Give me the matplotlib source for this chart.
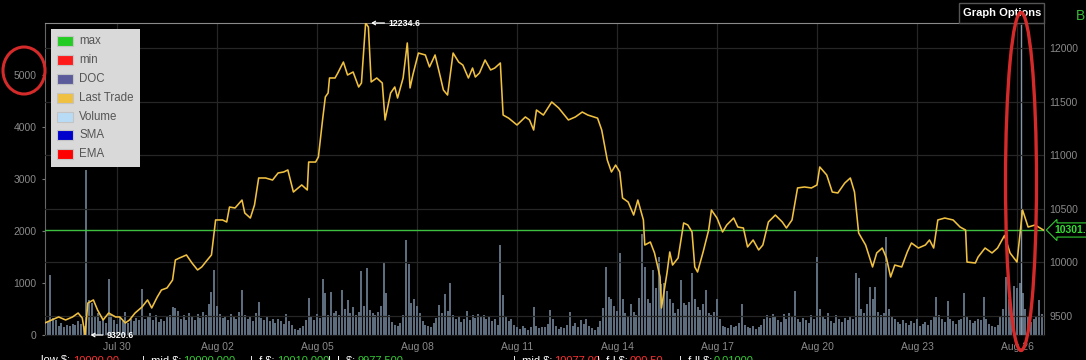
import numpy as np
import matplotlib
matplotlib.use('Agg')
import matplotlib.pyplot as plt
import matplotlib.dates as mdates
import matplotlib.transforms as mtransforms
from matplotlib.patches import Rectangle, Ellipse

plt.rcParams['font.family'] = ['Liberation Sans', 'DejaVu Sans']

# ---------------- data ----------------
START = np.datetime64('2019-07-28T00:00')

price_hours = [
    -4, 1, 6, 11, 16, 20, 23, 25, 27, 31,
    34, 38, 42, 47, 50, 54, 57, 61, 66, 70,
    73, 77, 80, 84, 88, 90, 93, 98, 102, 106,
    109, 113, 116, 119, 124, 127, 129, 133, 138, 140,
    144, 147, 150, 155, 160, 164, 168, 171, 175, 181,
    185, 186, 191, 193, 196, 198, 200, 201, 205, 207,
    211, 214, 218, 222, 224, 227, 229, 231, 235, 239,
    241, 245, 248, 250, 254, 257, 259, 261, 265, 270,
    273, 277, 281, 283, 286, 290, 294, 297, 301, 304,
    306, 309, 313, 317, 320, 324, 326, 330, 336, 342,
    345, 348, 350, 355, 361, 366, 373, 378, 383, 387,
    394, 397, 401, 404, 407, 410, 412, 416, 420, 423,
    427, 428, 432, 435, 439, 440, 444, 446, 448, 452,
    456, 459, 462, 464, 466, 470, 474, 476, 480, 484,
    487, 492, 495, 499, 502, 506, 510, 513, 517, 522,
    527, 530, 534, 538, 543, 548, 552, 554, 559, 563,
    567, 572, 576, 579, 582, 587, 592, 595, 599, 602,
    605, 608, 613, 617, 620, 625, 630, 633, 636, 639,
    644, 650, 655, 659, 660, 666, 668, 673, 678, 682,
    687, 691, 696, 700, 704, 709, 715,
]
price_values = [
    9433, 9461, 9489, 9461, 9489, 9526, 9479, 9320.6, 9619, 9648,
    9554, 9461, 9526, 9489, 9489, 9433, 9461, 9526, 9582, 9648,
    9573, 9676, 9741, 9760, 9834, 10021, 10040, 10068, 9993, 9928,
    9956, 10021, 10068, 10395, 10395, 10376, 10516, 10507, 10581, 10460,
    10413, 10535, 10787, 10787, 10768, 10834, 10843, 10862, 10656, 10722,
    10675, 10936, 10936, 10983, 11329, 11544, 11581, 11721, 11721, 11768,
    11870, 11749, 11777, 11637, 11674, 12234.6, 12197, 11684, 11721, 11674,
    11329, 11581, 11637, 11534, 11721, 12048, 11628, 11749, 11954, 11936,
    11824, 11936, 11721, 11609, 11562, 11954, 11870, 11842, 11721, 11814,
    11730, 11768, 11889, 11796, 11814, 11861, 11375, 11346, 11282, 11357,
    11329, 11235, 11422, 11375, 11497, 11441, 11329, 11357, 11403, 11375,
    11346, 11235, 10955, 10843, 10908, 10843, 10600, 10563, 10441, 10581,
    10395, 10161, 10189, 10087, 9862, 9573, 9900, 10096, 9974, 10040,
    10367, 10348, 10283, 9956, 9909, 10096, 10301, 10488, 10413, 10283,
    10348, 10413, 10329, 10320, 10143, 10208, 10115, 10161, 10376, 10441,
    10376, 10320, 10395, 10694, 10703, 10694, 10722, 10890, 10815, 10656,
    10647, 10740, 10787, 10656, 10273, 10161, 9956, 10087, 10133, 10040,
    9862, 9974, 9956, 10096, 10180, 10133, 10161, 10208, 10133, 10395,
    10413, 10395, 10329, 10301, 10002, 9993, 10049, 10133, 10087, 10133,
    10250, 10087, 10002, 10488, 10329, 10348, 10301.4,
]
assert len(price_hours) == len(price_values)

vol_first_hour = -4
vol_step_hours = 2
volume = [
    290, 250, 1150, 320, 280, 180, 240, 150, 200, 170, 220, 190, 260, 210, 180, 3170, 680, 620,
    350, 420, 260, 310, 230, 1080, 380, 290, 210, 340, 270, 450, 230, 300, 260, 330, 280, 880,
    300, 350, 420, 280, 380, 250, 310, 270, 340, 380, 540, 520, 460, 300, 380, 280, 420, 350,
    290, 400, 330, 450, 380, 600, 830, 1250, 560, 400, 320, 370, 290, 410, 350, 300, 450, 870,
    380, 300, 340, 270, 420, 640, 330, 280, 350, 260, 300, 230, 310, 270, 220, 400, 260, 190,
    110, 90, 130, 180, 280, 710, 340, 290, 400, 330, 1077, 810, 380, 820, 420, 460, 380, 870,
    500, 680, 420, 540, 380, 450, 1230, 560, 1290, 480, 420, 390, 450, 560, 1400, 800, 380, 250,
    200, 170, 240, 380, 1830, 1365, 620, 700, 560, 420, 260, 200, 170, 150, 230, 320, 580, 420,
    790, 460, 1000, 380, 300, 340, 250, 310, 460, 280, 380, 330, 400, 340, 380, 300, 350, 260,
    310, 200, 1730, 770, 350, 260, 300, 200, 160, 120, 180, 140, 100, 150, 540, 180, 130, 160,
    150, 220, 480, 300, 180, 120, 160, 140, 200, 450, 180, 230, 150, 280, 220, 300, 180, 140,
    100, 150, 260, 520, 1310, 740, 700, 560, 460, 1575, 700, 420, 350, 600, 450, 380, 720, 1950,
    1300, 700, 620, 1250, 900, 1500, 980, 1000, 850, 700, 620, 430, 500, 1060, 610, 580, 640, 1190,
    700, 540, 480, 600, 870, 420, 380, 450, 700, 300, 180, 160, 140, 200, 150, 180, 240, 600,
    200, 160, 140, 180, 120, 160, 190, 300, 380, 320, 400, 350, 280, 250, 400, 300, 420, 350,
    850, 300, 250, 320, 280, 240, 380, 300, 1500, 500, 350, 300, 420, 260, 230, 380, 300, 250,
    320, 280, 350, 300, 1190, 1100, 500, 420, 600, 930, 700, 930, 450, 380, 420, 1880, 500, 350,
    300, 250, 220, 280, 240, 200, 260, 230, 300, 180, 220, 250, 200, 280, 350, 740, 380, 300,
    250, 650, 300, 260, 220, 280, 300, 810, 350, 280, 230, 260, 300, 280, 740, 300, 220, 180,
    150, 200, 350, 500, 1120, 700, 600, 940, 900, 1000, 800, 500, 350, 250, 300, 350, 670, 400,
]

crosshair_hour = 699

tick_dates = ['2019-07-30', '2019-08-02', '2019-08-05', '2019-08-08', '2019-08-11',
              '2019-08-14', '2019-08-17', '2019-08-20', '2019-08-23', '2019-08-26']
left_ticks = [0, 1000, 2000, 3000, 4000, 5000]
right_ticks = [9500, 10000, 10500, 11000, 11500, 12000]

legend_labels = ['max', 'min', 'DOC', 'Last Trade', 'Volume', 'SMA', 'EMA']
legend_colors = ['#22cc22', '#ff1a1a', '#5b5b9b', '#f0c040', '#b8dcf6', '#0000cc', '#ff0000']

status_parts = [
    ('low $:', 'white'), ('10000.00', '#ff3030'),
    ('|  mid $:', 'white'), ('10000.000', '#33cc33'),
    ('|  f $:', 'white'), ('10010.000', '#33cc33'),
    ('|  L $:', 'white'), ('9977.500', '#33cc33'),
    ('|  mid $:', 'white'), ('10077.00', '#ff3030'),
    ('|  f-l $:', 'white'), ('000.50', '#ff3030'),
    ('|  f-ll $:', 'white'), ('0.01000', '#33cc33'),
]

# ---------------- figure ----------------
W, H = 1086, 360
fig = plt.figure(figsize=(W / 100, H / 100), dpi=100, facecolor='black')


def fx(x):
    return x / W


def fy(y):
    return 1 - y / H


ax = fig.add_axes([fx(45), 25 / H, 999 / W, 312 / H])
ax.set_facecolor('black')
ax2 = ax.twinx()

t0 = mdates.date2num(START.astype('datetime64[s]').astype(object))
pt = t0 + np.array(price_hours) / 24.0
pv = np.array(price_values, dtype=float)
vt = t0 + (vol_first_hour + vol_step_hours * np.arange(len(volume))) / 24.0

# volume bars
ax.bar(vt, volume, width=1.45 / 24, color='#5d6d7e', linewidth=0, zorder=2)
ax.axvline(t0 + crosshair_hour / 24.0, ymin=0, ymax=0.994, color='#8797aa', lw=1.0, zorder=3)
ax.set_ylim(0, 6000)
ax.set_xlim(t0 - 0.16, t0 + 29.81)

# price
ax2.plot(pt, pv, color='#f0c040', lw=1.15, zorder=4)
ax2.axhline(pv[-1], color='#3fbf3f', lw=1.0, zorder=3)
ax2.set_ylim(pv.min(), pv.max())

# ticks
ax.set_xticks([mdates.datestr2num(d) for d in tick_dates])
ax.xaxis.set_major_formatter(mdates.DateFormatter('%b %d'))
ax.set_yticks(left_ticks)
ax2.set_yticks(right_ticks)
ax.tick_params(axis='x', length=0, pad=5, labelcolor='#8a8a8a', labelsize=7.5)
ax.tick_params(axis='y', length=2.5, width=0.8, color='#777777', pad=3.5,
               labelcolor='#8a8a8a', labelsize=7.5)
ax2.tick_params(axis='y', length=0, pad=4, labelcolor='#8a8a8a', labelsize=7.5)

ax.grid(axis='x', color='#262626', lw=0.9, zorder=0)
ax.set_axisbelow(True)
ax2.grid(axis='y', color='#262626', lw=0.9, zorder=0)
ax2.set_axisbelow(True)

for s in ax2.spines.values():
    s.set_visible(False)
ax.spines['left'].set_color('#666666')
ax.spines['right'].set_color('#555555')
ax.spines['top'].set_color('#8a8a8a')
ax.spines['bottom'].set_color('#1a1a1a')

# max / min annotations
imax = int(np.argmax(pv))
imin = int(np.argmin(pv))
arrow = dict(arrowstyle='->,head_length=0.35,head_width=0.2', color='white', lw=0.9,
             shrinkA=1, shrinkB=4)
ax2.annotate(f'{pv[imax]:.1f}', xy=(pt[imax], pv[imax]), xytext=(23, 0),
             textcoords='offset pixels', ha='left', va='center', color='white',
             fontsize=6.4, fontweight='bold', arrowprops=arrow, zorder=6)
ax2.annotate(f'{pv[imin]:.1f}', xy=(pt[imin], pv[imin]), xytext=(22, 0),
             textcoords='offset pixels', ha='left', va='center', color='white',
             fontsize=6.4, fontweight='bold', arrowprops=arrow, zorder=6,
             annotation_clip=False)

# last price tag
blend = mtransforms.blended_transform_factory(ax2.transAxes, ax2.transData)
ax2.text(1.0 + 10 / 999, pv[-1], f'{pv[-1]:.1f}', transform=blend, ha='left', va='center',
         color='#33dd33', fontsize=7.5, fontweight='bold', clip_on=False,
         bbox=dict(boxstyle='larrow,pad=0.2', fc='black', ec='#33cc33', lw=0.8))

# legend
fig.add_artist(Rectangle((fx(51), fy(167)), 89 / W, 138 / H, transform=fig.transFigure,
                         fc='#d9d9d9', ec='none', zorder=5))
for i, (lab, col) in enumerate(zip(legend_labels, legend_colors)):
    yc = 41 + 18.9 * i
    fig.add_artist(Rectangle((fx(57), fy(yc + 5)), 16 / W, 10 / H, transform=fig.transFigure,
                             fc=col, ec='#c4c4c4', lw=0.8, zorder=6))
    fig.text(fx(79), fy(yc), lab, ha='left', va='center', color='#555555',
             fontsize=8.3, zorder=7)

# Graph Options button
fig.add_artist(Rectangle((fx(959), fy(23)), 85 / W, 20 / H, transform=fig.transFigure,
                         fc='black', ec='#555555', lw=1.0, zorder=5))
fig.text(fx(1002), fy(13), 'Graph Options', ha='center', va='center', color='white',
         fontsize=8, fontweight='bold', zorder=6)
fig.text(fx(1076), fy(16), 'B', ha='left', va='center', color='#33bb33', fontsize=10)

# status strip at the bottom (mostly cut off)
xs = [70, 73, 181, 183, 275, 277, 355, 357, 552, 554, 628, 630, 712, 714]
for (txt, col), x in zip(status_parts, xs):
    fig.text(fx(x), fy(355.5), txt, ha='right' if col == 'white' else 'left', va='top',
             color=col, fontsize=8)

# red hand-drawn ellipses
fig.add_artist(Ellipse((fx(24), fy(70.5)), 42 / W, 47 / H, transform=fig.transFigure,
                       fill=False, ec='#d42a2a', lw=2.2, zorder=20))
fig.add_artist(Ellipse((fx(1021), fy(181.5)), 31 / W, 338 / H, transform=fig.transFigure,
                       fill=False, ec='#d42a2a', lw=2.4, zorder=20))

fig.savefig('out.png', dpi=100, facecolor='black')
